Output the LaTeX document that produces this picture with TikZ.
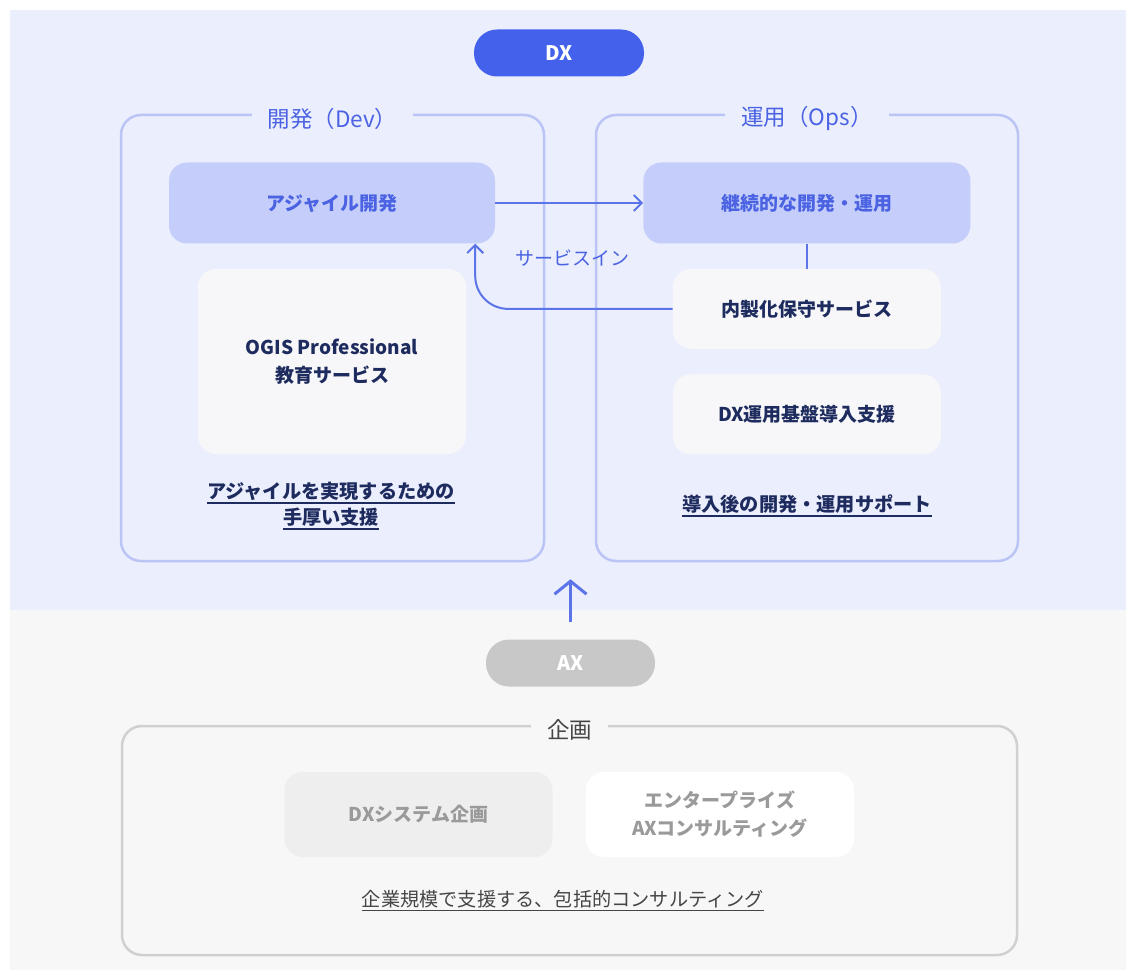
\documentclass[tikz,border=0pt]{standalone}
\usepackage{fontspec}
\setmainfont{Noto Sans CJK JP}
\usetikzlibrary{positioning,arrows.meta}
\definecolor{bgblue}{HTML}{EBEEFD}
\definecolor{bggrey}{HTML}{F7F7F7}
\definecolor{frameblue}{HTML}{BAC4F5}
\definecolor{boxblue}{HTML}{C5CEFA}
\definecolor{pillblue}{HTML}{4461EC}
\definecolor{textblue}{HTML}{4B63E3}
\definecolor{arrowblue}{HTML}{5B74E8}
\definecolor{navy}{HTML}{1E2B5E}
\definecolor{softwhite}{HTML}{F7F7F9}
\definecolor{axgrey}{HTML}{C8C8C8}
\definecolor{framegrey}{HTML}{D0D0D0}
\definecolor{boxgrey}{HTML}{EEEEEE}
\definecolor{textgrey}{HTML}{9A9A9A}
\definecolor{darkgrey}{HTML}{454545}
\newcommand{\ulw}[1]{\leavevmode\vtop{\hbox{#1}\kern1.5pt\hrule height 1.5pt}}

\begin{document}
\begin{tikzpicture}[x=1pt, y=-1pt,
  pill/.style = {rounded corners=23pt, minimum height=47pt, text=white, font=\fontsize{20}{24}\selectfont\bfseries},
  panel/.style = {draw=frameblue, line width=2.5pt, rounded corners=20pt, inner sep=0pt},
  paneltitle/.style = {fill=bgblue, inner xsep=16pt, inner ysep=2pt, yshift=-5pt, text=textblue, font=\fontsize{22.5}{26}\selectfont},
  card/.style = {rounded corners=18pt, minimum width=268pt, minimum height=80pt, inner sep=0pt, align=center, font=\fontsize{19}{28}\selectfont\bfseries},
  bluebox/.style = {card, fill=boxblue, text=textblue, minimum width=326pt, minimum height=81pt},
  whitebox/.style = {card, fill=softwhite, text=navy},
  greybox/.style = {card, fill=boxgrey, text=textgrey, minimum height=85pt},
  note/.style = {align=center, text=navy, font=\fontsize{19.2}{26}\selectfont\bfseries},
  flow/.style = {draw=arrowblue, line width=2pt, -{Straight Barb[length=8pt, width=16pt]}},
  link/.style = {draw=arrowblue, line width=2pt},
  liftarrow/.style = {draw=arrowblue, line width=3pt, -{Straight Barb[length=13pt, width=32pt]}}]
\fill[white] (0,0) rectangle (1126,973);
\fill[bgblue] (10,10) rectangle (1126,610);
\fill[bggrey] (10,610) rectangle (1126,970);
\useasboundingbox (0,0) rectangle (1126,973);

\node[pill, fill=pillblue, minimum width=170pt] (dx) at (559,53) {DX};

\node[panel, minimum width=423pt, minimum height=446pt] (dev) at (332.5,338) {};
\node[paneltitle] (devtitle) at (dev.north) {開発（Dev）};
\node[panel, minimum width=422pt, minimum height=446pt] (ops) at (807,338) {};
\node[paneltitle] (opstitle) at (ops.north) {運用（Ops）};

\node[bluebox] (agile) at (332,203) {アジャイル開発};
\node[bluebox, minimum width=327pt] (cont) [right=148pt of agile] {継続的な開発・運用};
\node[whitebox, minimum height=185pt] (ogis) [below=25pt of agile] {OGIS Professional\\教育サービス};
\node[whitebox] (inhouse) [below=25pt of cont] {内製化保守サービス};
\node[whitebox] (infra) [below=25pt of inhouse] {DX運用基盤導入支援};
\node[note] (devnote) at (331,506) {\ulw{アジャイルを実現するための}\\\ulw{手厚い支援}};
\node[note] (opsnote) at (807,506) {\ulw{導入後の開発・運用サポート}};

\draw[flow] (agile) -- (cont);
\draw[link] (cont.south) -- (inhouse.north);
\draw[flow, rounded corners=33pt] (inhouse.west) -| ([xshift=-20pt]agile.south east);
\node[text=textblue, font=\fontsize{19}{24}\selectfont] (servicein) at (572,258) {サービスイン};

\node[pill, fill=axgrey, minimum width=169pt] (ax) at (570.5,663) {AX};
\draw[liftarrow, shorten <=17pt, shorten >=17pt] (ax.north) -- (ax.north |- dev.south);

\node[panel, draw=framegrey, minimum width=895pt, minimum height=229pt] (plan) at (569.5,840.5) {};
\node[paneltitle, fill=bggrey, text=darkgrey] (plantitle) at (plan.north) {企画};
\node[greybox] (dxsys) at (418.5,814.5) {DXシステム企画};
\node[greybox, fill=white] (enterprise) [right=33pt of dxsys] {エンタープライズ\\AXコンサルティング};
\node[note, text=darkgrey, font=\fontsize{19.2}{26}\selectfont] (plannote) at (563,901) {\ulw{企業規模で支援する、包括的コンサルティング}};
\end{tikzpicture}
\end{document}
